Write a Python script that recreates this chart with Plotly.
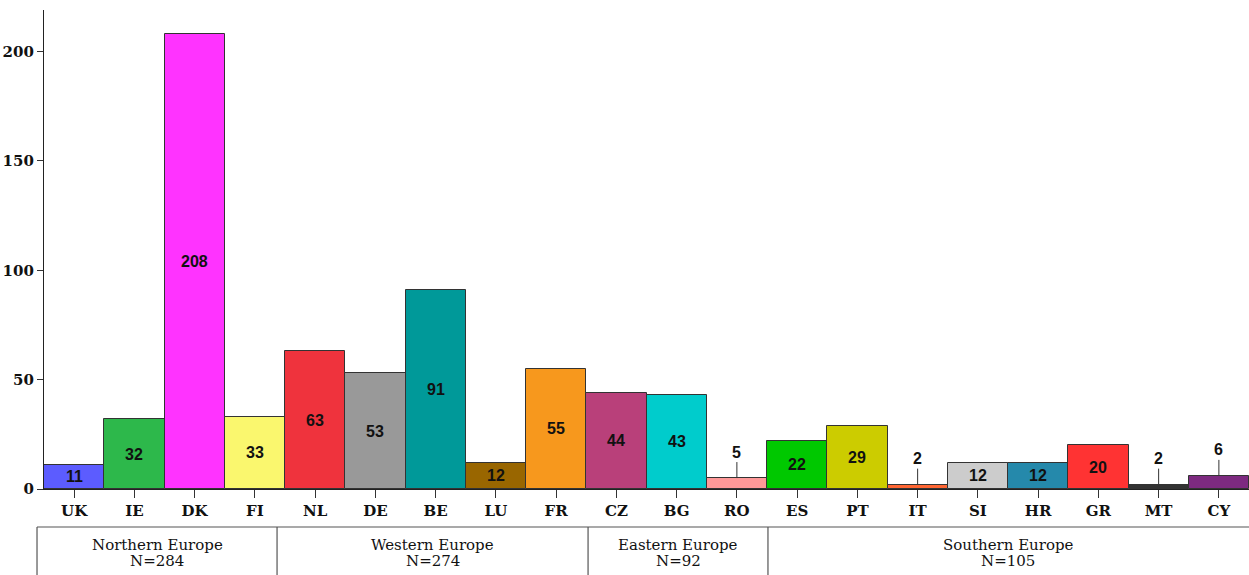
import plotly.graph_objects as go

countries = ["UK", "IE", "DK", "FI", "NL", "DE", "BE", "LU", "FR", "CZ",
             "BG", "RO", "ES", "PT", "IT", "SI", "HR", "GR", "MT", "CY"]
values = [11, 32, 208, 33, 63, 53, 91, 12, 55, 44,
          43, 5, 22, 29, 2, 12, 12, 20, 2, 6]
colors = ["#5C5CFF", "#2DB84B", "#FF33FF", "#FAF76E", "#EF333D", "#999999",
          "#009999", "#996600", "#F7981D", "#B9407A", "#00CCCC", "#FF9999",
          "#00C800", "#CCCC00", "#FF6633", "#CCCCCC", "#2589AB", "#FF3333",
          "#333333", "#7D2A80"]
group_names = ["Northern Europe", "Western Europe", "Eastern Europe", "Southern Europe"]
group_n = [284, 274, 92, 105]
y_ticks = [0, 50, 100, 150, 200]

# group box edges in paper coordinates (matching the reference layout)
group_edges = [-0.0058, 0.1934, 0.4515, 0.6008, 1.0]

SERIF = "DejaVu Serif, Liberation Serif, serif"

fig = go.Figure()
fig.add_trace(go.Bar(
    x=countries, y=values,
    marker=dict(color=colors, line=dict(color="#333333", width=1)),
    width=1.0, hoverinfo="x+y",
))

label_font = dict(family="Liberation Sans, Arial, sans-serif", size=16, color="#111111")
annotations = []
for c, v in zip(countries, values):
    if v >= 10:
        annotations.append(dict(x=c, y=v / 2, xref="x", yref="y", text=f"<b>{v}</b>",
                                showarrow=False, font=label_font))
    else:
        annotations.append(dict(x=c, y=v, xref="x", yref="y", text=f"<b>{v}</b>",
                                showarrow=True, arrowhead=0, arrowwidth=1,
                                arrowcolor="#333333", ax=0, ay=-26,
                                font=label_font))

group_font = dict(family=SERIF, size=15, color="#111111")
for i, (name, n) in enumerate(zip(group_names, group_n)):
    xc = (group_edges[i] + group_edges[i + 1]) / 2
    annotations.append(dict(x=xc, y=-0.1169, xref="paper", yref="paper",
                            text=name, showarrow=False,
                            xanchor="center", yanchor="middle", font=group_font))
    annotations.append(dict(x=xc, y=-0.1503, xref="paper", yref="paper",
                            text=f"N={n}", showarrow=False,
                            xanchor="center", yanchor="middle", font=group_font))

shapes = [dict(type="line", xref="paper", yref="paper",
               x0=group_edges[0], x1=group_edges[-1], y0=-0.0793, y1=-0.0793,
               line=dict(color="#555555", width=1.2))]
for e in group_edges[:-1]:
    shapes.append(dict(type="line", xref="paper", yref="paper",
                       x0=e, x1=e, y0=-0.0793, y1=-0.19,
                       line=dict(color="#555555", width=1.2)))

fig.update_layout(
    width=1249, height=575,
    margin=dict(l=44, r=0, t=10, b=86),
    plot_bgcolor="white", paper_bgcolor="white",
    showlegend=False, bargap=0,
    annotations=annotations, shapes=shapes,
    font=dict(family=SERIF, color="#111111"),
)
fig.update_xaxes(
    range=[-0.5, 19.5], showline=True, linecolor="#222222", linewidth=1.2,
    ticks="outside", ticklen=8, tickcolor="#333333", tickwidth=1,
    tickfont=dict(family=SERIF, size=15, color="#111111", weight="bold"),
    showgrid=False, zeroline=False,
)
fig.update_yaxes(
    range=[0, 219], showline=True, linecolor="#222222", linewidth=1.2,
    ticks="outside", ticklen=6, tickcolor="#333333", tickwidth=1,
    tickvals=y_ticks,
    tickfont=dict(family=SERIF, size=15, color="#111111", weight="bold"),
    showgrid=False, zeroline=False,
)

fig.write_html("out.html", config={"displayModeBar": False},
               post_script="document.body.style.margin='0';")
